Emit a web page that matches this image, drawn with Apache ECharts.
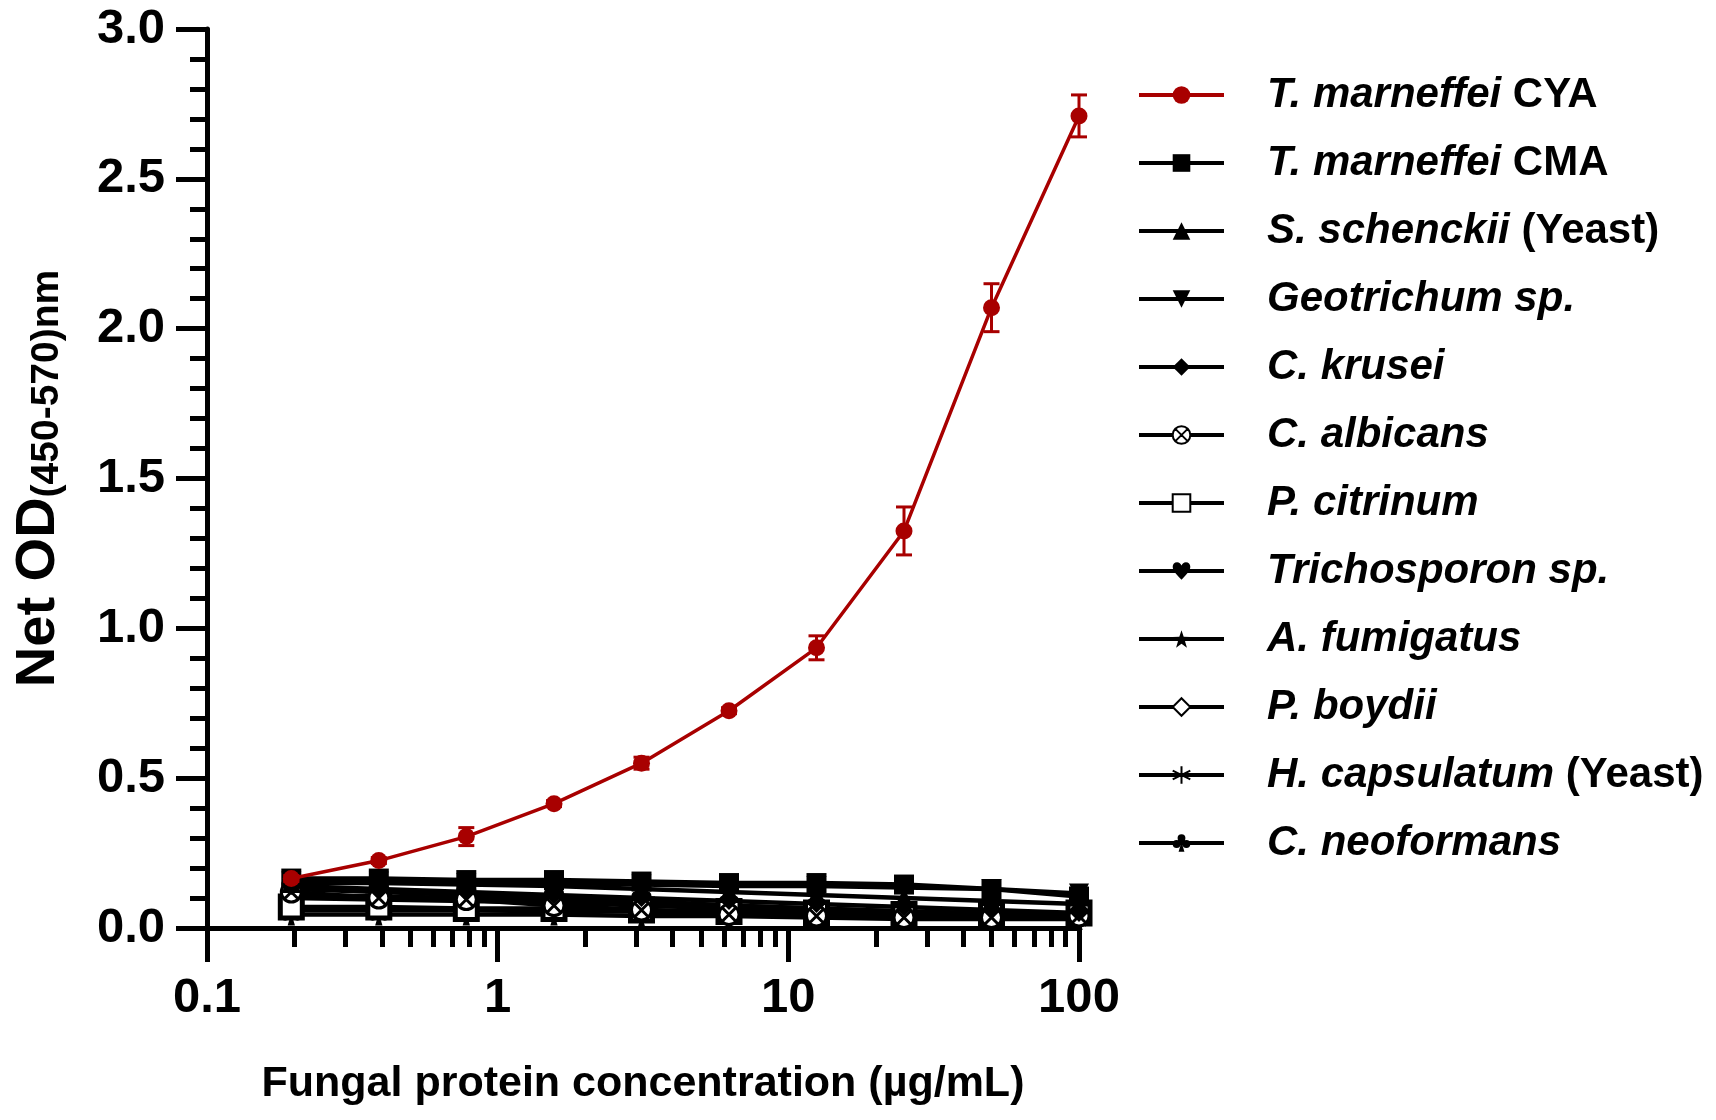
<!DOCTYPE html>
<html>
<head>
<meta charset="utf-8">
<script src="https://cdn.jsdelivr.net/npm/echarts@6/dist/echarts.min.js"></script>
<style>
html,body{margin:0;padding:0;background:#fff;}
#chart{width:1716px;height:1120px;}
</style>
</head>
<body>
<div id="chart"></div>
<script>
// ---------- DATA ----------
const conc = [0.195, 0.39, 0.78, 1.5625, 3.125, 6.25, 12.5, 25, 50, 100];
const xTickMinor = [0.2,0.3,0.4,0.5,0.6,0.7,0.8,0.9,2,3,4,5,6,7,8,9,20,30,40,50,60,70,80,90];

const seriesNames = ['T. marneffei CYA','T. marneffei CMA','S. schenckii (Yeast)','Geotrichum sp.','C. krusei','C. albicans','P. citrinum','Trichosporon sp.','A. fumigatus','P. boydii','H. capsulatum (Yeast)','C. neoformans'];
const nameItalic = ['T. marneffei','T. marneffei','S. schenckii','Geotrichum sp.','C. krusei','C. albicans','P. citrinum','Trichosporon sp.','A. fumigatus','P. boydii','H. capsulatum','C. neoformans'];
const nameSuffix = [' CYA',' CMA',' (Yeast)','','','','','','','',' (Yeast)',''];

const cyaMean = [0.165, 0.225, 0.305, 0.415, 0.55, 0.725, 0.935, 1.325, 2.07, 2.71];
const cyaSD   = [0.01, 0.01, 0.03, 0.01, 0.02, 0.01, 0.04, 0.08, 0.08, 0.07];

const cmaMean   = [0.165, 0.165, 0.16, 0.16, 0.155, 0.15, 0.15, 0.145, 0.13, 0.105];
const schenckii = [0.15, 0.15, 0.145, 0.14, 0.13, 0.12, 0.11, 0.10, 0.09, 0.08];
const geotrich  = [0.155, 0.155, 0.15, 0.15, 0.145, 0.14, 0.14, 0.135, 0.13, 0.115];
const krusei    = [0.14, 0.13, 0.12, 0.11, 0.10, 0.09, 0.08, 0.07, 0.06, 0.05];
const albicans  = [0.12, 0.10, 0.095, 0.075, 0.06, 0.045, 0.04, 0.035, 0.035, 0.04];
const citrinum  = [0.07, 0.07, 0.065, 0.065, 0.06, 0.055, 0.05, 0.045, 0.045, 0.05];
const trichos   = [0.13, 0.12, 0.11, 0.10, 0.09, 0.075, 0.065, 0.055, 0.05, 0.045];
const fumigatus = [0.11, 0.105, 0.10, 0.095, 0.085, 0.075, 0.065, 0.055, 0.045, 0.04];
const boydii    = [0.10, 0.095, 0.09, 0.085, 0.075, 0.065, 0.06, 0.05, 0.04, 0.035];
const capsul    = [0.06, 0.06, 0.06, 0.055, 0.055, 0.05, 0.045, 0.04, 0.035, 0.03];
const neoform   = [0.045, 0.045, 0.045, 0.045, 0.04, 0.04, 0.035, 0.03, 0.03, 0.03];

const yTicks = [0, 0.5, 1.0, 1.5, 2.0, 2.5, 3.0];

// ---------- SYMBOLS ----------
const SYM = {
  invTri: 'path://M0,0 L20,0 L10,18 Z',
  circX: 'path://M0,10 A10,10 0 1,0 20,10 A10,10 0 1,0 0,10 Z M3,3 L17,17 M17,3 L3,17',
  heart: 'path://M10,19 C3,12 0,9 0,5 C0,2 2,0 5,0 C7.5,0 9,1.5 10,3.5 C11,1.5 12.5,0 15,0 C18,0 20,2 20,5 C20,9 17,12 10,19 Z',
  star: 'path://M10,0 L12.35,6.76 L19.51,6.91 L13.8,11.24 L15.88,18.09 L10,14 L4.12,18.09 L6.2,11.24 L0.49,6.91 L7.65,6.76 Z',
  aster: 'path://M10,0 L10,20 M1.3,5 L18.7,15 M18.7,5 L1.3,15',
  club: 'path://M6,5 A4,4 0 1,0 14,5 A4,4 0 1,0 6,5 Z M1,11 A4,4 0 1,0 9,11 A4,4 0 1,0 1,11 Z M11,11 A4,4 0 1,0 19,11 A4,4 0 1,0 11,11 Z M10,9 L7,19 L13,19 Z'
};

const FONT = '"Liberation Sans", Arial, Helvetica, sans-serif';
const RED = '#a80000';

function blackSeries(idx, values, symbol, size, opts) {
  opts = opts || {};
  return {
    type: 'line',
    name: seriesNames[idx],
    data: conc.map((c, i) => [c, values[i]]),
    symbol: symbol,
    symbolSize: size,
    showSymbol: true,
    lineStyle: { color: '#000', width: 4.5 },
    itemStyle: {
      color: opts.fill || '#000',
      borderColor: '#000',
      borderWidth: opts.border || 0
    },
    z: 3,
    emphasis: { disabled: true }
  };
}

const series = [
  blackSeries(11, neoform, SYM.club, 22),
  blackSeries(10, capsul, SYM.aster, 20, { border: 3.5 }),
  blackSeries(9, boydii, 'diamond', 20, { fill: '#fff', border: 3.5 }),
  blackSeries(8, fumigatus, SYM.star, 22),
  blackSeries(7, trichos, SYM.heart, 20),
  blackSeries(6, citrinum, 'rect', 22, { fill: '#fff', border: 5 }),
  blackSeries(5, albicans, SYM.circX, 20, { fill: '#fff', border: 3 }),
  blackSeries(4, krusei, 'diamond', 18),
  blackSeries(3, geotrich, SYM.invTri, 20),
  blackSeries(2, schenckii, 'triangle', 20),
  blackSeries(1, cmaMean, 'rect', 20),
  {
    type: 'custom',
    name: 'cyaErr',
    silent: true,
    z: 9,
    data: conc.map((c, i) => [c, cyaMean[i] - cyaSD[i], cyaMean[i] + cyaSD[i]]),
    encode: { x: 0, y: [1, 2] },
    renderItem: function (params, api) {
      const lo = api.coord([api.value(0), api.value(1)]);
      const hi = api.coord([api.value(0), api.value(2)]);
      const w = 8;
      const st = { stroke: RED, lineWidth: 3, fill: null };
      return {
        type: 'group',
        children: [
          { type: 'line', shape: { x1: lo[0], y1: lo[1], x2: hi[0], y2: hi[1] }, style: st },
          { type: 'line', shape: { x1: lo[0] - w, y1: lo[1], x2: lo[0] + w, y2: lo[1] }, style: st },
          { type: 'line', shape: { x1: hi[0] - w, y1: hi[1], x2: hi[0] + w, y2: hi[1] }, style: st }
        ]
      };
    }
  },
  {
    type: 'line',
    name: seriesNames[0],
    data: conc.map((c, i) => [c, cyaMean[i]]),
    symbol: 'circle',
    symbolSize: 17,
    lineStyle: { color: RED, width: 3.5 },
    itemStyle: { color: RED },
    z: 10,
    emphasis: { disabled: true }
  }
];

const chart = echarts.init(document.getElementById('chart'), null, { renderer: 'canvas' });
chart.setOption({
  animation: false,
  backgroundColor: '#fff',
  grid: { left: 207, right: 637, top: 29, bottom: 192, containLabel: false, outerBoundsMode: 'none' },
  xAxis: [
    {
      type: 'log', logBase: 10, min: 0.1, max: 100,
      position: 'bottom',
      axisLine: { show: true, onZero: false, lineStyle: { color: '#000', width: 5 } },
      axisTick: { show: true, inside: false, length: 34, lineStyle: { color: '#000', width: 5 } },
      axisLabel: {
        show: true, margin: 46, color: '#000',
        fontFamily: FONT, fontWeight: 'bold', fontSize: 49,
        formatter: function (v) { return String(+v.toPrecision(3)); }
      },
      splitLine: { show: false },
      minorTick: { show: false },
      name: 'Fungal protein concentration (\u00b5g/mL)',
      nameLocation: 'middle',
      nameGap: 135,
      nameTextStyle: { color: '#000', fontFamily: FONT, fontWeight: 'bold', fontSize: 43 }
    },
    {
      type: 'log', logBase: 10, min: 0.1, max: 100,
      position: 'bottom',
      axisLine: { show: false },
      axisTick: { show: true, inside: false, length: 19, customValues: xTickMinor, lineStyle: { color: '#000', width: 5 } },
      axisLabel: { show: false },
      splitLine: { show: false }
    }
  ],
  yAxis: {
    type: 'value', min: 0, max: 3, interval: 0.5,
    axisLine: { show: true, onZero: false, lineStyle: { color: '#000', width: 5 } },
    axisTick: { show: true, inside: false, length: 31, lineStyle: { color: '#000', width: 5 } },
    minorTick: { show: true, splitNumber: 5, length: 17, lineStyle: { color: '#000', width: 5 } },
    axisLabel: {
      margin: 42, color: '#000', fontFamily: FONT, fontWeight: 'bold', fontSize: 49,
      formatter: function (v) { return yTicks.indexOf(v) >= 0 ? v.toFixed(1) : ''; }
    },
    splitLine: { show: false },
    name: '{a|Net OD}{b|(450-570)nm}',
    nameLocation: 'middle',
    nameRotate: 90,
    nameGap: 140,
    nameTextStyle: {
      color: '#000',
      rich: {
        a: { fontFamily: FONT, fontWeight: 'bold', fontSize: 56, lineHeight: 56, verticalAlign: 'top', color: '#000' },
        b: { fontFamily: FONT, fontWeight: 'bold', fontSize: 39, lineHeight: 39, verticalAlign: 'bottom', padding: [30, 0, 0, 0], color: '#000' }
      }
    }
  },
  legend: {
    show: true,
    orient: 'vertical',
    left: 1132,
    top: 68,
    itemWidth: 85,
    itemHeight: 22,
    itemGap: 24,
    data: seriesNames,
    lineStyle: { width: 4 },
    formatter: function (name) {
      const i = seriesNames.indexOf(name);
      let s = '{i|' + nameItalic[i] + '}';
      if (nameSuffix[i]) s += '{n|' + nameSuffix[i] + '}';
      return s;
    },
    textStyle: {
      lineHeight: 44,
      rich: {
        i: { fontFamily: FONT, fontStyle: 'italic', fontWeight: 'bold', fontSize: 42, color: '#000', padding: [0, 0, 0, 38], lineHeight: 44 },
        n: { fontFamily: FONT, fontWeight: 'bold', fontSize: 42, color: '#000', lineHeight: 44 }
      }
    },
    selectedMode: false
  },
  series: series
});
</script>
</body>
</html>
